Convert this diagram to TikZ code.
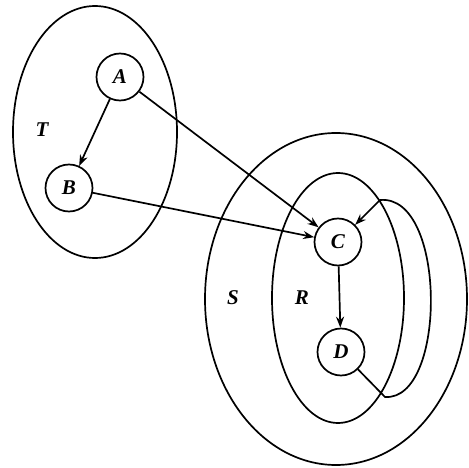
\documentclass[tikz,border=0pt]{standalone}
\usepackage{fontspec}
\setmainfont{Liberation Serif}
\usetikzlibrary{arrows.meta}
\begin{document}
\begin{tikzpicture}[x=1pt,y=-1pt,
  every path/.style={line width=1.7pt},
  vert/.style={circle,draw,minimum size=47pt,inner sep=0pt,font=\fontsize{21}{24}\selectfont\bfseries\itshape},
  setlbl/.style={font=\fontsize{21}{24}\selectfont\bfseries\itshape},
  arr/.style={-{Stealth[length=11pt,width=8pt]}}]
\useasboundingbox (0,0) rectangle (469,468);
\draw (95,132) ellipse [x radius=82,y radius=126];
\draw (336,299) ellipse [x radius=131,y radius=166];
\draw (338,298) ellipse [x radius=66,y radius=125];
\node[vert] (A) at (120,77) {A};
\node[vert] (B) at (69,188) {B};
\node[vert] (C) at (338,242) {C};
\node[vert] (D) at (341,352) {D};
\node[setlbl] (T) at (42,130) {T};
\node[setlbl] (S) at (233,298) {S};
\node[setlbl] (R) at (302,298) {R};
\coordinate (l1) at (385,397);
\coordinate (l2) at (380,200);
\draw[arr] (A) -- (B);
\draw[arr] (A) -- (C);
\draw[arr] (B) -- (C);
\draw[arr] (C) -- (D);
\draw[arr] (D) -- (l1) .. controls (447,401) and (447,194) .. (l2) -- (C);
\end{tikzpicture}
\end{document}
